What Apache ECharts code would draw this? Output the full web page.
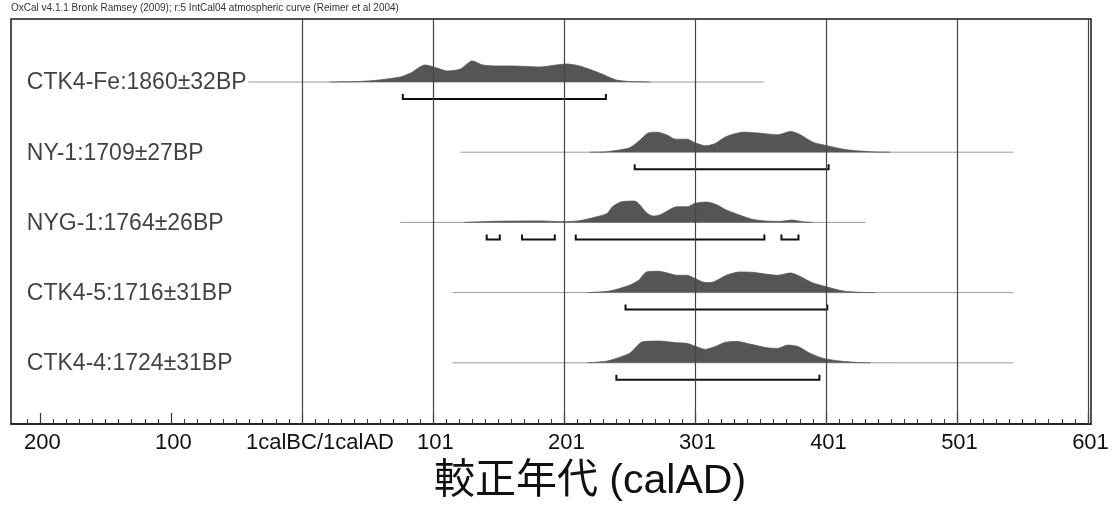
<!DOCTYPE html>
<html><head><meta charset="utf-8">
<script src="https://cdn.jsdelivr.net/npm/echarts@6/dist/echarts.min.js"></script>
<style>html,body{margin:0;padding:0;background:#fff}#c{width:1115px;height:508px}</style>
</head><body><div id="c"></div>
<script>
// ---------- DATA ----------
const headerText = 'OxCal v4.1.1 Bronk Ramsey (2009); r:5 IntCal04 atmospheric curve (Reimer et al 2004)';
const axisTitle = '較正年代 (calAD)';
const sampleLabels = ['CTK4-Fe:1860±32BP', 'NY-1:1709±27BP', 'NYG-1:1764±26BP', 'CTK4-5:1716±31BP', 'CTK4-4:1724±31BP'];
// tick positions in astronomical calAD (1 AD = 1, 100 BC = -99)
const majorTickYears = [-199, -99, 1, 101, 201, 301, 401, 501, 601];
const majorTickLabels = ['200', '100', '1calBC/1calAD', '101', '201', '301', '401', '501', '601'];
const gridLineYears = [1, 101, 201, 301, 401, 501, 601];
// calculation range of each trace (thin line)
const traceRanges = [[-40, 354], [122, 544], [76, 431], [116, 544], [116, 544]];
// relative probability [calAD, density]
const distCTK4Fe = [[22,0],[45,0.5],[60,2],[76,5],[84,9],[95,17],[104,14],[112,11],[122,13],[131,21],[139,17],[150,16],[162,16],[183,15],[195,17],[203,18],[213,16],[228,9],[241,2],[251,0.5],[267,0]];
const distNY1 = [[221,0],[234,0.5],[251,4.4],[259,12],[265,19],[272,20],[280,17],[286,13],[295,13],[301,9.4],[309,6.4],[316,8.4],[325,15.7],[338,20],[351,19],[364,17.4],[374,20.7],[381,17.7],[391,10],[400,7],[417,2.4],[435,0.5],[450,0]];
const distNYG1 = [[125,0],[132,0.3],[145,1],[165,1.3],[183,1.5],[200,0.7],[213,1.7],[226,5.6],[234,9],[238,15.6],[245,20.6],[255,21.3],[259,17.3],[264,9.6],[269,6.3],[274,7.3],[282,13],[287,15.6],[295,15.6],[301,19],[310,20.3],[318,17.3],[325,12.3],[335,7.3],[345,3],[356,1.3],[366,1],[375,2.3],[383,0.7],[391,0]];
const distCTK45 = [[219,0],[236,1.6],[251,7.3],[258,12.3],[264,20.6],[273,21.3],[280,19.6],[287,17.3],[295,17.3],[301,14],[309,10],[315,10.6],[325,17.3],[335,20.6],[345,20.3],[356,18.3],[364,17.3],[374,19.6],[381,16.3],[391,9.6],[402,5.6],[414,1.6],[427,0.3],[438,0]];
const distCTK44 = [[219,0],[234,1.7],[251,9.4],[255,14.4],[261,21],[274,21.7],[287,20],[295,19.4],[301,16.7],[309,13.4],[316,16],[324,20.4],[333,21.4],[343,18.7],[356,15],[364,14.4],[372,17.7],[380,16],[389,9.4],[399,4.4],[412,1.7],[425,0.3],[435,0]];
// 95.4% ranges [from, to]
const rangesCTK4Fe = [[78, 233]];
const rangesNY1 = [[255, 403]];
const rangesNYG1 = [[142, 152], [169, 194], [210, 354], [367, 380]];
const rangesCTK45 = [[248, 402]];
const rangesCTK44 = [[241, 396]];

const distributions = [distCTK4Fe, distNY1, distNYG1, distCTK45, distCTK44];
const rangeSets = [rangesCTK4Fe, rangesNY1, rangesNYG1, rangesCTK45, rangesCTK44];

// ---------- LAYOUT ----------
const X_MIN = -221.1, X_MAX = 603.3;
const Y_MAX = 405, ROW_TOP = 342, ROW_STEP = 70.2;
const LABEL_X = -209;
const BAR_OFFSET = 17, BAR_TICK = 5;
const base = i => ROW_TOP - ROW_STEP * i;
const FONT = 'Liberation Sans, Arial, sans-serif';
const TXT = '#111';

const minorTicks = [];
for (let v = -209; v <= 601; v += 10) minorTicks.push(v);

const series = [];
// grid lines
series.push({
  type: 'line', data: [], silent: true,
  markLine: {
    silent: true, symbol: ['none', 'none'], label: { show: false },
    lineStyle: { color: '#444', width: 1.2, type: 'solid' },
    animation: false,
    data: gridLineYears.map(v => ({ xAxis: v }))
  }
});
distributions.forEach((d, i) => {
  const b = base(i);
  series.push({
    type: 'line', symbol: 'none', silent: true, z: 2,
    lineStyle: { color: '#9a9a9a', width: 1 },
    data: traceRanges[i].map(x => [x, b])
  });
  series.push({
    type: 'line', symbol: 'none', silent: true, z: 3, smooth: 0.25,
    lineStyle: { color: '#555', width: 0.8 },
    itemStyle: { color: '#555' },
    areaStyle: { color: '#555', opacity: 1, origin: b },
    data: d.map(p => [p[0], b + p[1]])
  });
});
// ranges
const rangeData = [];
rangeSets.forEach((rs, i) => rs.forEach(r => rangeData.push([r[0], r[1], base(i)])));
series.push({
  type: 'custom', silent: true, z: 4,
  encode: { x: [0, 1], y: 2 },
  data: rangeData,
  renderItem: (params, api) => {
    const p1 = api.coord([api.value(0), api.value(2)]);
    const p2 = api.coord([api.value(1), api.value(2)]);
    const y = p1[1] + BAR_OFFSET;
    return {
      type: 'polyline',
      shape: { points: [[p1[0], y - BAR_TICK], [p1[0], y], [p2[0], y], [p2[0], y - BAR_TICK]] },
      style: { stroke: '#111', lineWidth: 2, fill: null }
    };
  }
});
// sample labels
series.push({
  type: 'scatter', symbolSize: 0, silent: true, z: 5,
  data: sampleLabels.map((n, i) => ({ value: [LABEL_X, base(i)], name: n })),
  label: {
    show: true, position: 'right', distance: 0, formatter: p => p.name,
    fontFamily: FONT, fontSize: 23, color: TXT, offset: [0, 1]
  }
});

const chart = echarts.init(document.getElementById('c'), null, { renderer: 'canvas' });
chart.setOption({
  animation: false,
  backgroundColor: '#fff',
  grid: { left: 11, right: 24, top: 19, bottom: 84, show: true, borderColor: '#1a1a1a', borderWidth: 1.5, containLabel: false },
  xAxis: [
    {
      type: 'value', min: X_MIN, max: X_MAX, position: 'bottom',
      axisLine: { show: true, lineStyle: { color: '#1a1a1a', width: 1.5 } },
      axisTick: { show: true, inside: true, length: 5, customValues: minorTicks, lineStyle: { color: '#333', width: 1 } },
      axisLabel: { show: false }, splitLine: { show: false }
    },
    {
      type: 'value', min: X_MIN, max: X_MAX, position: 'bottom', offset: 0,
      axisLine: { show: false },
      axisTick: { show: true, inside: true, length: 11, customValues: majorTickYears, lineStyle: { color: '#333', width: 1.2 } },
      axisLabel: {
        show: true, customValues: majorTickYears, margin: 8,
        fontFamily: FONT, fontSize: 22, color: TXT,
        formatter: v => {
          const idx = majorTickYears.indexOf(Math.round(v));
          const t = idx >= 0 ? majorTickLabels[idx] : '';
          return idx === 2 ? '{z|' + t + '}' : '{n|' + t + '}';
        },
        rich: {
          z: { fontFamily: FONT, fontSize: 22, color: TXT, padding: [0, 0, 0, 36] },
          n: { fontFamily: FONT, fontSize: 22, color: TXT, padding: [0, 0, 0, 5] }
        }
      },
      splitLine: { show: false }
    }
  ],
  yAxis: { type: 'value', min: 0, max: Y_MAX, show: false, splitLine: { show: false } },
  graphic: [
    { type: 'text', left: 11, top: 3, style: { text: headerText, fontFamily: FONT, fontSize: 10, fill: '#333' } },
    { type: 'text', x: 590, y: 482, style: { text: axisTitle, fontFamily: 'Liberation Sans, Noto Sans CJK JP, sans-serif', fontSize: 41, fill: TXT, align: 'center', verticalAlign: 'middle' } }
  ],
  series: series
});
</script>
</body></html>
